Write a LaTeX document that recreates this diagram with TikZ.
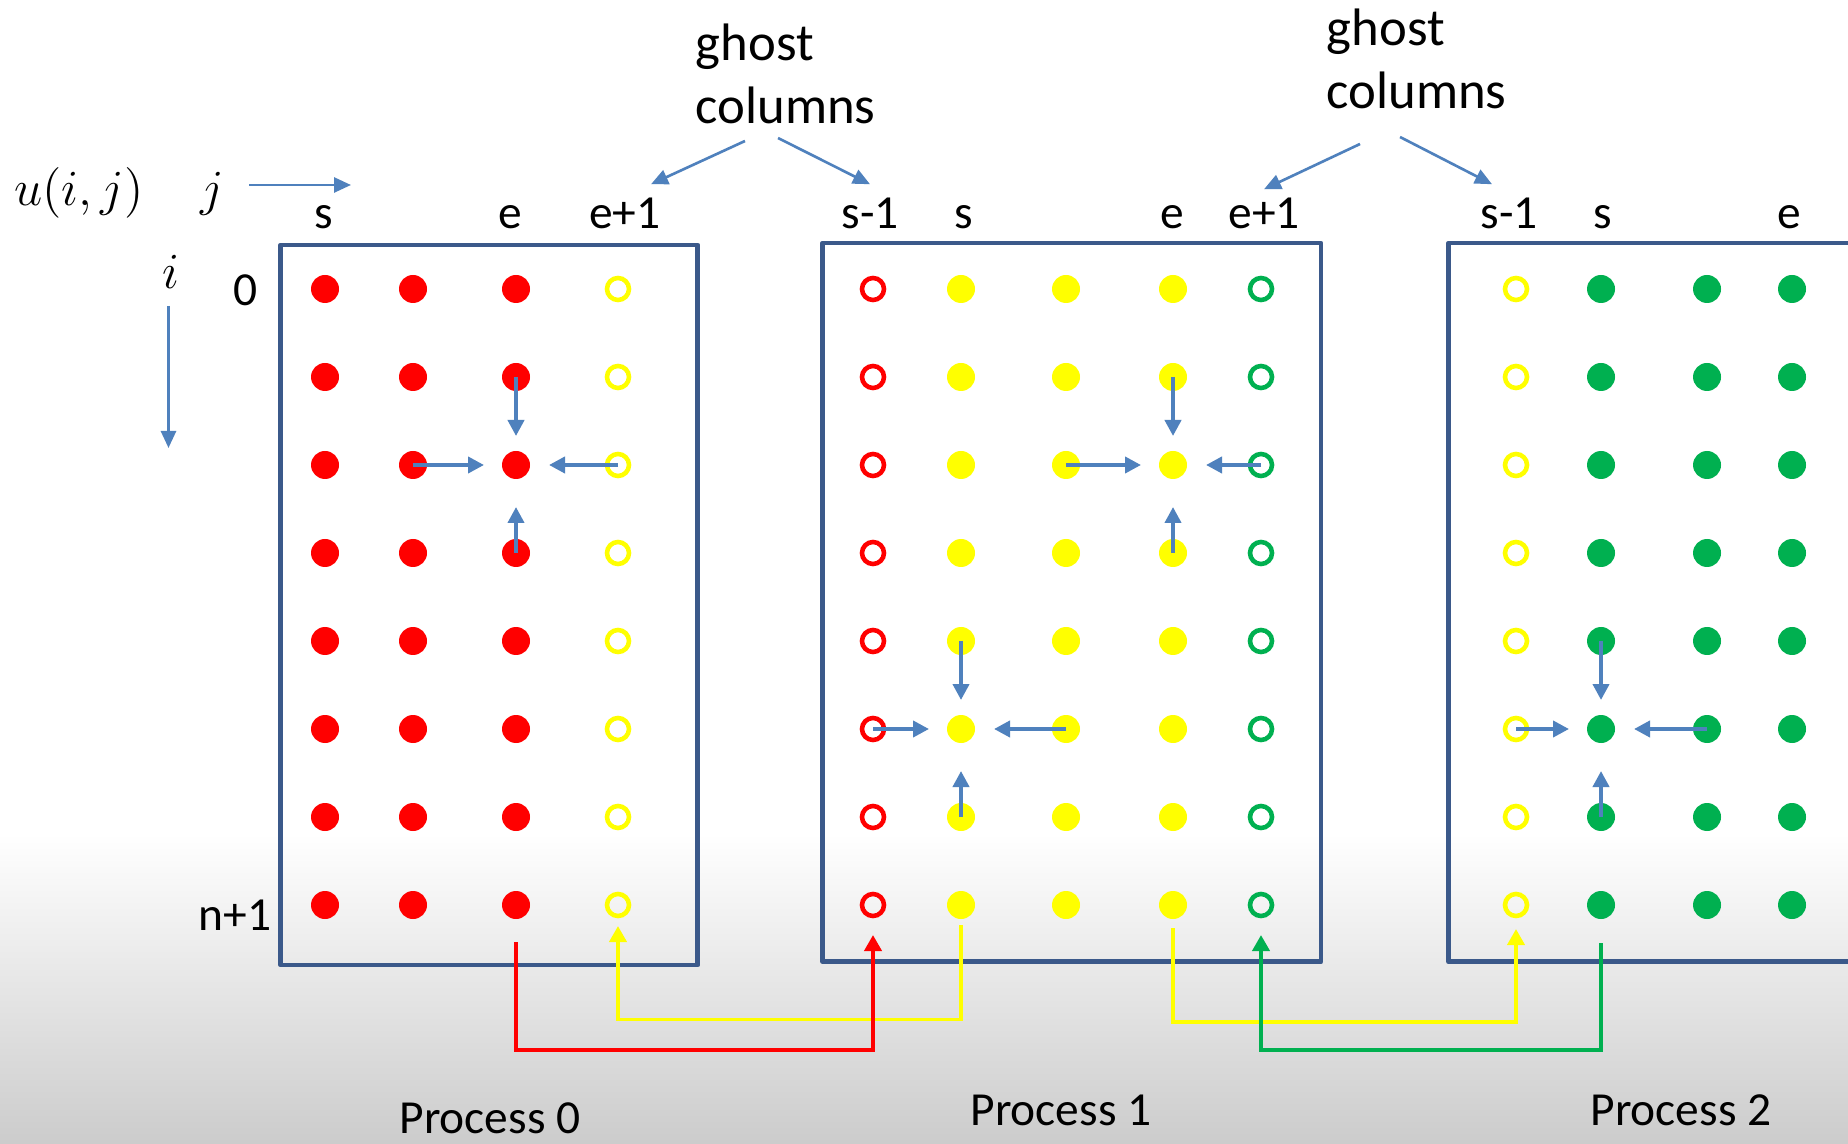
\documentclass[tikz,border=0pt]{standalone}
\usepackage{fontspec}
\setmainfont{Carlito}
\usepackage{tikz}
\usetikzlibrary{arrows.meta,positioning,calc}
\definecolor{frameblue}{RGB}{59,89,138}
\definecolor{pointblue}{RGB}{79,129,189}
\definecolor{pred}{RGB}{255,0,0}
\definecolor{pyellow}{RGB}{255,255,0}
\definecolor{pgreen}{RGB}{0,176,80}
\tikzset{
  full/.style={circle,draw=none,fill=#1,inner sep=0pt,minimum size=0.28cm},
  ghost/.style={circle,draw=#1,line width=1.3pt,inner sep=0pt,minimum size=0.22cm},
  procbox/.style={draw=frameblue,line width=1.35pt,line join=round},
  stencil/.style={draw=pointblue,line width=1.1pt,-{Triangle[length=0.16cm,width=0.16cm]}},
  pointer/.style={draw=pointblue,line width=0.75pt,-{Triangle[length=0.17cm,width=0.15cm]}},
  xfer/.style={draw=#1,line width=1.1pt,-{Triangle[length=0.16cm,width=0.17cm]}},
  lbl/.style={font=\fontsize{13.5}{16}\selectfont,inner sep=1pt,anchor=base},
  ghostlbl/.style={font=\fontsize{15}{18}\selectfont,align=left,anchor=west,inner sep=0pt}
}
\begin{document}
\begin{tikzpicture}
\useasboundingbox (0,0) rectangle (18.48,11.43);
\clip (0,0) rectangle (18.48,11.43);
\fill[white] (0,0) rectangle (18.48,11.43);
\shade[top color=white,bottom color=black!20] (0,0) rectangle (18.48,3.1);
% axes
\node (u) [lbl,font=\fontsize{14}{16}\selectfont] at (0.79,9.37) {$u(i,j)$};
\node (j) [lbl,font=\fontsize{14}{16}\selectfont] at (2.12,9.37) {$j$};
\node (i) [lbl,font=\fontsize{14}{16}\selectfont] at (1.71,8.54) {$i$};
\coordinate (js) at (2.49,9.58);\coordinate (je) at (3.51,9.58);
\coordinate (is) at (1.685,8.37);\coordinate (ie) at (1.685,6.95);
\draw[pointer] (js)--(je);\draw[pointer] (is)--(ie);
% boxes
\draw[procbox] (2.805,1.78) rectangle (6.977,8.98);
\draw[procbox] (8.226,1.813) rectangle (13.21,9.00);
\draw[procbox] (19.2,9.00) -| (14.485,1.813) -- (19.2,1.813);
% column labels
\node (l0s) [lbl] at (3.24,9.14) {s};
\node (l0e) [lbl] at (5.10,9.14) {e};
\node (l0e1) [lbl] at (6.25,9.14) {e+1};
\node (l1s1) [lbl] at (8.70,9.14) {s-1};
\node (l1s) [lbl] at (9.64,9.14) {s};
\node (l1e) [lbl] at (11.72,9.14) {e};
\node (l1e1) [lbl] at (12.64,9.14) {e+1};
\node (l2s1) [lbl] at (15.09,9.14) {s-1};
\node (l2s) [lbl] at (16.03,9.14) {s};
\node (l2e) [lbl] at (17.89,9.14) {e};
\node (r0) [lbl] at (2.46,8.37) {0};
\node (rn) [lbl] at (2.35,2.13) {n+1};
% ghost labels
\node (gA) [ghostlbl] at (6.95,10.69) {ghost\\columns};
\node (gB) [ghostlbl] at (13.26,10.84) {ghost\\columns};
\coordinate (gA1) at (7.45,10.02);\coordinate (gA2) at (7.78,10.05);
\coordinate (gB1) at (13.60,9.99);\coordinate (gB2) at (14.00,10.06);
\draw[pointer] (gA1)--([xshift=0.26cm,yshift=0.1cm]l0e1.north);
\draw[pointer] (gA2)--([yshift=0.1cm]l1s1.north);
\draw[pointer] (gB1)--([yshift=0.05cm]l1e1.north);
\draw[pointer] (gB2)--([xshift=-0.17cm,yshift=0.1cm]l2s1.north);
% grid points
\foreach \r in {1,...,8}{
  \pgfmathsetmacro{\y}{8.54-0.88*(\r-1)}
  \foreach \c/\x in {1/3.25,2/4.13,3/5.16}
    \node (p0-\r-\c) [full=pred] at (\x,\y) {};
  \node (p0-\r-4) [ghost=pyellow] at (6.18,\y) {};
  \node (p1-\r-1) [ghost=pred] at (8.73,\y) {};
  \foreach \c/\x in {2/9.61,3/10.66,4/11.73}
    \node (p1-\r-\c) [full=pyellow] at (\x,\y) {};
  \node (p1-\r-5) [ghost=pgreen] at (12.61,\y) {};
  \node (p2-\r-1) [ghost=pyellow] at (15.16,\y) {};
  \foreach \c/\x in {2/16.01,3/17.07,4/17.92}
    \node (p2-\r-\c) [full=pgreen] at (\x,\y) {};
}
% five point stencils
\foreach \m/\n/\s/\w/\e in {p0-3-3/p0-2-3/p0-4-3/p0-3-2/p0-3-4,
  p1-3-4/p1-2-4/p1-4-4/p1-3-3/p1-3-5,
  p1-6-2/p1-5-2/p1-7-2/p1-6-1/p1-6-3,
  p2-6-2/p2-5-2/p2-7-2/p2-6-1/p2-6-3}{
  \draw[stencil,shorten >=0.29cm] (\n.center)--(\m.center);
  \draw[stencil,shorten >=0.42cm] (\s.center)--(\m.center);
  \draw[stencil,shorten >=0.32cm] (\w.center)--(\m.center);
  \draw[stencil,shorten >=0.33cm] (\e.center)--(\m.center);
}
% exchange of ghost columns
\draw[xfer=pyellow] ([yshift=-0.20cm]p1-8-2.center)--([yshift=-1.145cm]p1-8-2.center) -| ([yshift=-0.21cm]p0-8-4.center);
\draw[xfer=pyellow] ([yshift=-0.23cm]p1-8-4.center)--([yshift=-1.17cm]p1-8-4.center) -| ([yshift=-0.24cm]p2-8-1.center);
\draw[xfer=pred] ([yshift=-0.37cm]p0-8-3.center)--([yshift=-1.45cm]p0-8-3.center) -| ([yshift=-0.30cm]p1-8-1.center);
\draw[xfer=pgreen] ([yshift=-0.38cm]p2-8-2.center)--([yshift=-1.45cm]p2-8-2.center) -| ([yshift=-0.30cm]p1-8-5.center);
% processes
\node (q0) [lbl] at (4.90,0.10) {Process 0};
\node (q1) [lbl] at (10.61,0.175) {Process 1};
\node (q2) [lbl] at (16.81,0.175) {Process 2};
\end{tikzpicture}
\end{document}
